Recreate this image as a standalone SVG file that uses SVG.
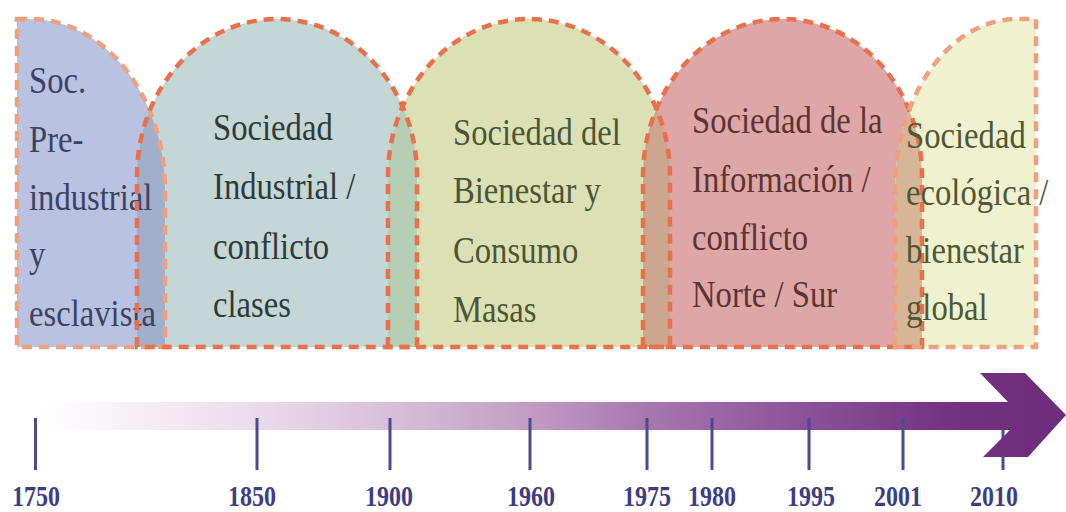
<svg xmlns="http://www.w3.org/2000/svg" width="1066" height="512" viewBox="0 0 1066 512">
<style>
.outline{fill:none;stroke:#e8714c;stroke-width:4.5;stroke-dasharray:10 7}
.outline.light{stroke:#efa07f}
.t{font-family:"Liberation Serif","Times New Roman",serif;font-size:38px}
.yr{font-family:"Liberation Serif","Times New Roman",serif;font-size:30px;font-weight:bold;fill:#3d3d85;text-anchor:middle}
.tick{stroke:#4b4b92;stroke-width:3}
</style>
<defs>
<path id="p1" d="M17,19 H30 A135,171 0 0 1 165,190 V347 H17 Z"/>
<path id="p2" d="M137,347 V176 A140,157 0 0 1 417,176 V347 Z"/>
<path id="p3" d="M388,347 V176 A141,157 0 0 1 670,176 V347 Z"/>
<path id="p4" d="M643,347 V176 A139.5,157 0 0 1 922,176 V347 Z"/>
<path id="p5" d="M895,347 V190 A122,171 0 0 1 1017,19 H1036 V347 Z"/>
<clipPath id="c1"><use href="#p1"/></clipPath>
<clipPath id="c2"><use href="#p2"/></clipPath>
<clipPath id="c3"><use href="#p3"/></clipPath>
<clipPath id="c4"><use href="#p4"/></clipPath>
<linearGradient id="grad" gradientUnits="userSpaceOnUse" x1="40" y1="0" x2="1066" y2="0">
<stop offset="0" stop-color="#ffffff"/>
<stop offset="0.205" stop-color="#ebdcea"/>
<stop offset="0.35" stop-color="#d7bdd8"/>
<stop offset="0.478" stop-color="#c19cc4"/>
<stop offset="0.594" stop-color="#a677ad"/>
<stop offset="0.74" stop-color="#8c529a"/>
<stop offset="0.887" stop-color="#753281"/>
<stop offset="1" stop-color="#6e2a7c"/>
</linearGradient>
</defs>

<g id="fills">
<use href="#p1" fill="#b9c2e0"/>
<use href="#p2" fill="#c4d6d6"/>
<use href="#p3" fill="#dbe1b5"/>
<use href="#p4" fill="#dea6a6"/>
<use href="#p5" fill="#eff1cf"/>
</g>
<g id="overlaps">
<use href="#p2" clip-path="url(#c1)" fill="#a0afcc"/>
<use href="#p3" clip-path="url(#c2)" fill="#b6cdb6"/>
<use href="#p4" clip-path="url(#c3)" fill="#cba78f"/>
<use href="#p5" clip-path="url(#c4)" fill="#d7b698"/>
</g>

<g id="node-preindustrial">
<use href="#p1" class="outline light"/>
<g transform="translate(29 0) scale(0.86 1)" class="t" fill="#3c4262">
<text x="0" y="93">Soc.</text>
<text x="0" y="152">Pre-</text>
<text x="0" y="210">industrial</text>
<text x="0" y="267">y</text>
<text x="0" y="326">esclavista</text>
</g>
</g>

<g id="node-industrial">
<use href="#p2" class="outline"/>
<g transform="translate(213 0) scale(0.86 1)" class="t" fill="#2f3a3a">
<text x="0" y="140">Sociedad</text>
<text x="0" y="199">Industrial /</text>
<text x="0" y="259">conflicto</text>
<text x="0" y="317">clases</text>
</g>
</g>

<g id="node-bienestar">
<use href="#p3" class="outline"/>
<g transform="translate(453 0) scale(0.86 1)" class="t" fill="#4d5535">
<text x="0" y="145">Sociedad del</text>
<text x="0" y="203">Bienestar y</text>
<text x="0" y="263">Consumo</text>
<text x="0" y="322">Masas</text>
</g>
</g>

<g id="node-informacion">
<use href="#p4" class="outline"/>
<g transform="translate(692 0) scale(0.86 1)" class="t" fill="#5d3333">
<text x="0" y="133">Sociedad de la</text>
<text x="0" y="192">Información /</text>
<text x="0" y="250">conflicto</text>
<text x="0" y="307">Norte / Sur</text>
</g>
</g>

<g id="node-ecologica">
<use href="#p5" class="outline light"/>
<g transform="translate(906 0) scale(0.86 1)" class="t" fill="#4f5733">
<text x="0" y="148">Sociedad</text>
<text x="0" y="205">ecológica /</text>
<text x="0" y="263">bienestar</text>
<text x="0" y="320">global</text>
</g>
</g>

<g id="timeline">
<line class="tick" x1="1003" y1="418" x2="1003" y2="470"/>
<path d="M40,402 H1008 L980,373 H1025 L1066,415 L1028,457 H983 L1010,430 H40 Z" fill="url(#grad)"/>
<line class="tick" x1="35.5" y1="418" x2="35.5" y2="470"/>
<line class="tick" x1="257" y1="418" x2="257" y2="470"/>
<line class="tick" x1="390" y1="418" x2="390" y2="470"/>
<line class="tick" x1="530" y1="418" x2="530" y2="470"/>
<line class="tick" x1="647" y1="418" x2="647" y2="470"/>
<line class="tick" x1="712" y1="418" x2="712" y2="470"/>
<line class="tick" x1="809" y1="418" x2="809" y2="470"/>
<line class="tick" x1="903" y1="418" x2="903" y2="470"/>
<g class="yr">
<text transform="translate(36 506) scale(0.8 1)">1750</text>
<text transform="translate(252 506) scale(0.8 1)">1850</text>
<text transform="translate(389 506) scale(0.8 1)">1900</text>
<text transform="translate(531 506) scale(0.8 1)">1960</text>
<text transform="translate(647 506) scale(0.8 1)">1975</text>
<text transform="translate(712 506) scale(0.8 1)">1980</text>
<text transform="translate(811 506) scale(0.8 1)">1995</text>
<text transform="translate(898 506) scale(0.8 1)">2001</text>
<text transform="translate(994 506) scale(0.8 1)">2010</text>
</g>
</g>
</svg>
